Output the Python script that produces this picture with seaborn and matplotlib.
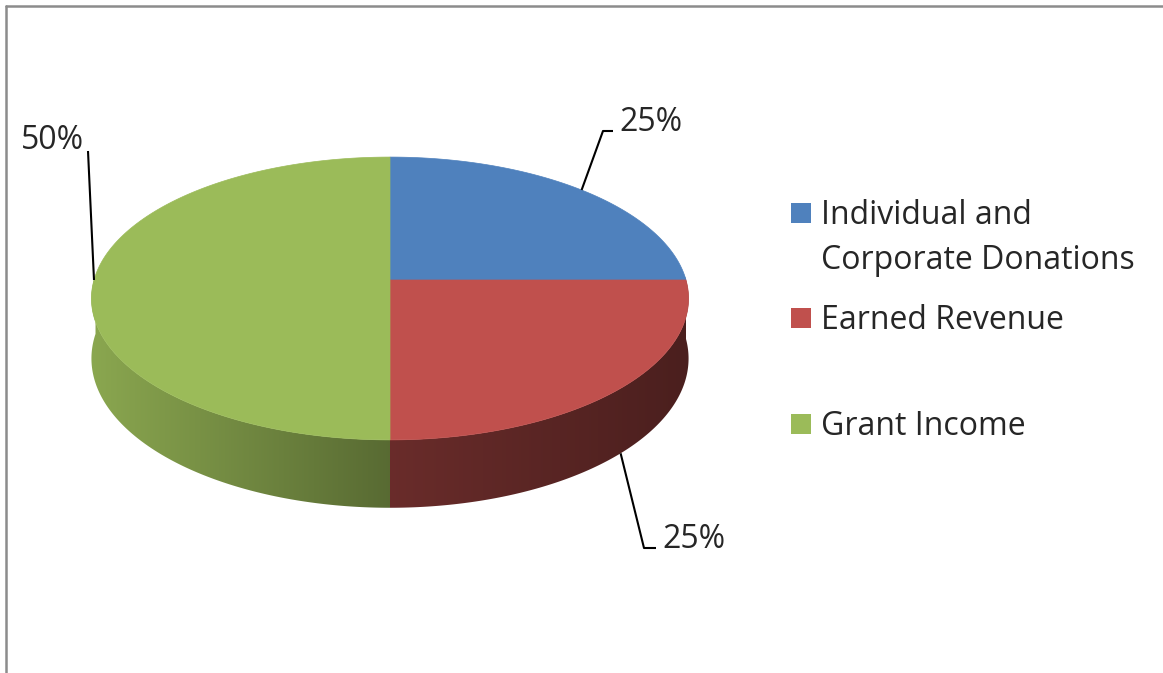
import numpy as np
import matplotlib
matplotlib.use("Agg")
import matplotlib.pyplot as plt
import seaborn as sns
from matplotlib.patches import Polygon, Rectangle

# data
categories = ["Individual and\nCorporate Donations", "Earned Revenue", "Grant Income"]
shares = np.array([25, 25, 50])
hex_colors = ["#4F81BD", "#C0504D", "#9BBB59"]

sns.set_theme(style="white")
plt.rcParams['font.family'] = ['Open Sans', 'DejaVu Sans']
palette = sns.color_palette(hex_colors)

fig = plt.figure(figsize=(11.63, 6.73), dpi=100)
ax = fig.add_axes([0, 0, 1, 1])

# pie geometry (pixel space, slight perspective like Excel 3D pie)
cx, cy = 390, 280
rx, ry = 296, 139
k = 0.1307
depth = 59


def project(theta, drop=0.0):
    t = np.radians(theta)
    u = np.sin(t)
    v = -np.cos(t)
    w = 1.0 / (1.0 - k * v)
    return cx + rx * u * w, cy + ry * v * w + drop * w


def shade(u):
    return np.where(u < 0, 0.57 - 0.32 * u, 0.55 - 0.16 * u)


total = shares.sum()
ends = np.cumsum(shares) / total * 360
starts = np.concatenate([[0], ends[:-1]])
mids = (starts + ends) / 2

# side walls: polygon filled with a horizontal shading gradient
for s, e, col in zip(starts, ends, palette):
    lo, hi = max(s, 88), min(e, 272)
    if lo >= hi:
        continue
    th = np.linspace(lo, hi, 300)
    xt, yt = project(th)
    xb, yb = project(th[::-1], depth)
    pts = list(zip(xt, yt)) + list(zip(xb, yb))
    side = Polygon(pts, closed=True, facecolor="none", edgecolor="none")
    ax.add_patch(side)
    x0, x1 = min(xt.min(), xb.min()) - 10, max(xt.max(), xb.max()) + 10
    y0, y1 = min(yt.min(), yb.min()) - 10, max(yt.max(), yb.max()) + 10
    xs = np.linspace(x0, x1, 1200)
    u = np.clip((xs - cx) / rx, -1, 1)
    grad = np.clip(np.array(col)[None, :] * shade(u)[:, None], 0, 1)
    grad = np.repeat(grad[None, :, :], 4, axis=0)
    im = ax.imshow(grad, extent=(x0, x1, y1, y0), aspect="auto",
                   interpolation="nearest", zorder=1)
    im.set_clip_path(side)

# top face
for s, e, col in zip(starts, ends, palette):
    th = np.linspace(s, e, 200)
    xs, ys = project(th)
    pts = [(cx, cy)] + list(zip(xs, ys))
    ax.add_patch(Polygon(pts, closed=True, facecolor=col, edgecolor=col,
                         lw=0.5, zorder=2))

# data labels with leader lines
pct = [f"{v / total:.0%}" for v in shares]
lk = dict(color="black", lw=1.5, solid_capstyle="butt", zorder=3)
fs_lbl = 23

# blue slice (top right)
x0, y0 = project(mids[0])
ax.plot([x0, 603, 613], [y0, 131, 131], **lk)
ax.text(619, 131, pct[0], fontsize=fs_lbl, va="baseline", ha="left")

# red slice (bottom right, from lower edge)
x0, y0 = project(mids[1], depth)
ax.plot([x0, 644, 656], [y0, 548, 548], **lk)
ax.text(662, 548, pct[1], fontsize=fs_lbl, va="baseline", ha="left")

# green slice (left)
x0, y0 = project(mids[2])
ax.plot([x0, 88], [y0, 151], **lk)
ax.text(84, 149, pct[2], fontsize=fs_lbl, va="baseline", ha="right")

# legend
leg_base = [224, 329, 435]
for lab, col, base in zip(categories, palette, leg_base):
    ax.add_patch(Rectangle((791, base - 21), 20, 20, facecolor=col, edgecolor="none"))
    for i, line in enumerate(lab.split("\n")):
        ax.text(821, base + i * 45, line, fontsize=fs_lbl, va="baseline", ha="left")

# chart area border (top and left visible)
ax.plot([6, 1163], [6, 6], color="#8C8C8C", lw=1.8)
ax.plot([6, 6], [6, 673], color="#8C8C8C", lw=1.8)

ax.set_xlim(0, 1163)
ax.set_ylim(673, 0)
ax.axis("off")

fig.savefig("out.png", dpi=100)
